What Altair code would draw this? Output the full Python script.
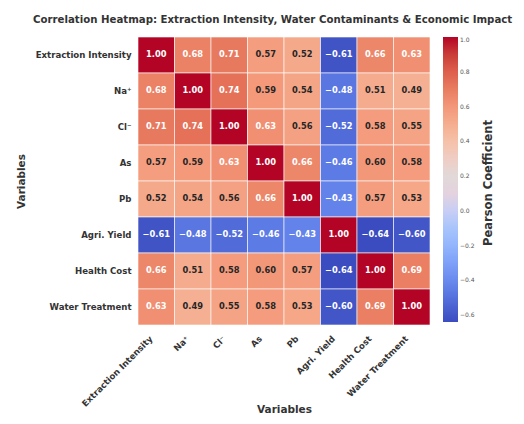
import altair as alt
import pandas as pd

variables = ["Extraction Intensity", "Na⁺", "Cl⁻", "As", "Pb", "Agri. Yield", "Health Cost", "Water Treatment"]

row_extraction = [1.00, 0.68, 0.71, 0.57, 0.52, -0.61, 0.66, 0.63]
row_na = [0.68, 1.00, 0.74, 0.59, 0.54, -0.48, 0.51, 0.49]
row_cl = [0.71, 0.74, 1.00, 0.63, 0.56, -0.52, 0.58, 0.55]
row_as = [0.57, 0.59, 0.63, 1.00, 0.66, -0.46, 0.60, 0.58]
row_pb = [0.52, 0.54, 0.56, 0.66, 1.00, -0.43, 0.57, 0.53]
row_agri = [-0.61, -0.48, -0.52, -0.46, -0.43, 1.00, -0.64, -0.60]
row_health = [0.66, 0.51, 0.58, 0.60, 0.57, -0.64, 1.00, 0.69]
row_water = [0.63, 0.49, 0.55, 0.58, 0.53, -0.60, 0.69, 1.00]

matrix = [row_extraction, row_na, row_cl, row_as, row_pb, row_agri, row_health, row_water]
legend_ticks = [-0.6, -0.4, -0.2, 0.0, 0.2, 0.4, 0.6, 0.8, 1.0]
legend_title = "Pearson Coefficient"

coolwarm = ["#3b4cc0", "#6282ea", "#8db0fe", "#b9d0f9", "#dddcdc",
            "#f5c4ac", "#f49a7b", "#de614d", "#b40426"]

records = []
for i, r in enumerate(variables):
    for j, c in enumerate(variables):
        records.append({"row": r, "col": c, "v": matrix[i][j]})
df = pd.DataFrame(records)

FONT = "DejaVu Sans"

base = alt.Chart(df).encode(
    x=alt.X("col:N", sort=variables, title="Variables",
            axis=alt.Axis(labelAngle=315, labelAlign="right", labelBaseline="top",
                          labelFontSize=8.6, labelFontWeight="bold", labelFont=FONT,
                          labelColor="#333333", ticks=False, domain=False,
                          labelPadding=9, labelOffset=-8,
                          titleFontSize=10.5, titleFontWeight="bold", titleFont=FONT,
                          titleColor="#333333", titleY=87, titleBaseline="alphabetic")),
    y=alt.Y("row:N", sort=variables, title="Variables",
            axis=alt.Axis(labelFontSize=8.6, labelFontWeight="bold", labelFont=FONT,
                          labelColor="#333333", ticks=False, domain=False, labelPadding=7,
                          titleFontSize=10.5, titleFontWeight="bold", titleFont=FONT,
                          titleColor="#333333", titlePadding=9)),
)

rect = base.mark_rect(stroke="white", strokeWidth=0.6).encode(
    color=alt.Color("v:Q",
                    scale=alt.Scale(domain=[-0.64, 1.0], range=coolwarm, nice=False, zero=False),
                    legend=alt.Legend(title=None, orient="none",
                                      legendX=305, legendY=0, direction="vertical",
                                      gradientLength=285, gradientThickness=15,
                                      values=legend_ticks, format=".1f",
                                      labelFontSize=6, labelColor="#555555", labelFont=FONT))
)

text = base.mark_text(fontSize=8.3, fontWeight="bold", font=FONT).encode(
    text=alt.Text("v:Q", format=".2f"),
    color=alt.condition("datum.v < 0 || datum.v > 0.6", alt.value("white"), alt.value("#262626")),
)

ltitle = alt.Chart(pd.DataFrame({"t": [legend_title]})).mark_text(
    angle=270, fontSize=11.5, fontWeight="bold", font=FONT, color="#333333", baseline="middle", align="center"
).encode(text="t:N", x=alt.value(351), y=alt.value(146))

chart = (rect + text + ltitle).properties(
    width=292, height=288,
    autosize=alt.AutoSizeParams(type="none"),
    padding={"left": 130, "top": 29, "right": 86, "bottom": 91},
    title=alt.TitleParams("Correlation Heatmap: Extraction Intensity, Water Contaminants & Economic Impact",
                          anchor="start", frame="group", dx=-105, fontSize=10.2, fontWeight="bold",
                          font=FONT, color="#333333", offset=12),
).configure_view(stroke=None)

chart.save("out.html", embed_options={"renderer": "svg", "actions": False})
